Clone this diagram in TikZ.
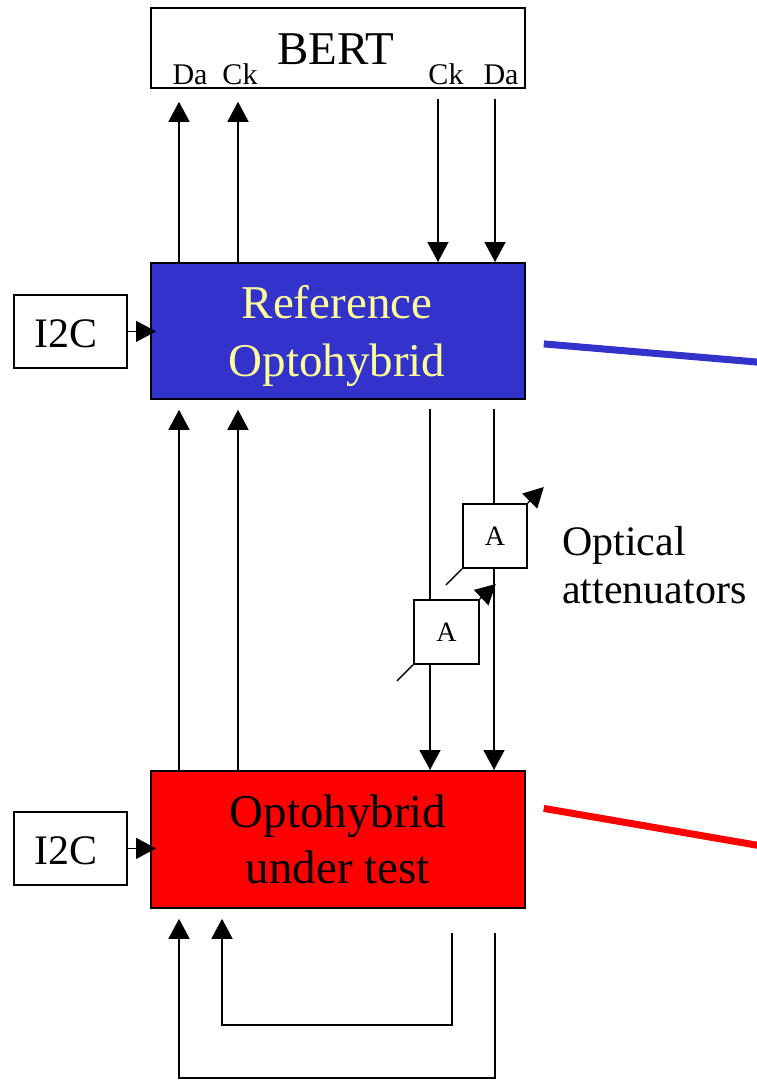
\documentclass[tikz,border=0pt]{standalone}
\usepackage{fontspec}
\setmainfont{Liberation Serif}
\usetikzlibrary{arrows.meta,calc}
\definecolor{refblue}{HTML}{3333CC}
\definecolor{refyellow}{HTML}{FFFF99}
\definecolor{testred}{HTML}{FF0000}
\begin{document}
\begin{tikzpicture}[x=1pt,y=-1pt,
  box/.style={draw=black, line width=1.8pt, fill=white, inner sep=0pt, anchor=north west},
  wire/.style={line width=1.5pt, draw=black},
  arr/.style={wire, -{Triangle[length=20pt,width=21pt]}},
  bigtxt/.style={font=\fontsize{47}{56}\selectfont, anchor=base, inner sep=0pt},
  midtxt/.style={font=\fontsize{42}{48}\selectfont, anchor=base, inner sep=0pt},
  smalltxt/.style={font=\fontsize{30}{34}\selectfont, anchor=base, inner sep=0pt},
  atttxt/.style={font=\fontsize{28}{32}\selectfont},
  fibre/.style={line width=7pt}
]
\useasboundingbox (0,0) rectangle (756,1080);

% BERT
\node[box, minimum width=374pt, minimum height=80pt] (bert) at (150,7) {};
\node[font=\fontsize{47}{56}\selectfont, anchor=base, inner sep=0pt] (berttxt) at (336,64) {BERT};
\node[smalltxt] (da1) at (190,84) {Da};
\node[smalltxt] (ck1) at (240,84) {Ck};
\node[smalltxt] (ck2) at (446,84) {Ck};
\node[smalltxt] (da2) at (501,84) {Da};

% Reference optohybrid
\node[box, fill=refblue, minimum width=374pt, minimum height=136pt] (ref) at (150,262) {};
\node[bigtxt, text=refyellow] (reft1) at (337,318) {Reference};
\node[bigtxt, text=refyellow] (reft2) at (337,376) {Optohybrid};

% Optohybrid under test
\node[box, fill=testred, minimum width=374pt, minimum height=137pt] (dut) at (150,770) {};
\node[bigtxt] (dutt1) at (338,827) {Optohybrid};
\node[bigtxt] (dutt2) at (338,883) {under test};

% I2C boxes
\node[box, minimum width=113pt, minimum height=73pt] (i2ca) at (13,294) {};
\node[midtxt] (i2catxt) at (66,347) {I2C};
\node[box, minimum width=113pt, minimum height=73pt] (i2cb) at (13,811) {};
\node[midtxt] (i2cbtxt) at (66,864) {I2C};

\draw[arr] (i2ca.east) -- ([xshift=6pt]ref.west |- i2ca.east);
\draw[arr] (i2cb.east) -- ([xshift=6pt]dut.west |- i2cb.east);

% Ref -> BERT
\draw[arr] ([xshift=29pt]ref.north west) -- ([xshift=29pt,yshift=-13pt]bert.south west);
\draw[arr] ([xshift=88pt]ref.north west) -- ([xshift=88pt,yshift=-13pt]bert.south west);
% BERT -> Ref
\draw[arr] ([xshift=288pt,yshift=-10pt]bert.south west) -- ([xshift=288pt]ref.north west);
\draw[arr] ([xshift=345pt,yshift=-10pt]bert.south west) -- ([xshift=345pt]ref.north west);

% DUT -> Ref
\draw[arr] ([xshift=29pt]dut.north west) -- ([xshift=29pt,yshift=-10pt]ref.south west);
\draw[arr] ([xshift=88pt]dut.north west) -- ([xshift=88pt,yshift=-10pt]ref.south west);
% Ref -> DUT (through attenuators)
\draw[arr] ([xshift=280pt,yshift=-9pt]ref.south west) -- ([xshift=280pt]dut.north west);
\draw[arr] ([xshift=344pt,yshift=-9pt]ref.south west) -- ([xshift=344pt]dut.north west);

% Attenuators
\node[box, minimum width=64pt, minimum height=64pt, atttxt] (att1) at (462,503) {A};
\node[box, minimum width=65pt, minimum height=64pt, atttxt] (att2) at (413,599) {A};
\draw[wire] ($(att1.south west)+(-16,16)$) -- (att1.south west);
\draw[arr] (att1.north east) -- ++(16,-16);
\draw[wire] ($(att2.south west)+(-16,16)$) -- (att2.south west);
\draw[arr] (att2.north east) -- ++(16,-15);

\node[midtxt, anchor=base west] (opt1) at (562,555) {Optical};
\node[midtxt, anchor=base west] (opt2) at (562,603) {attenuators};

% Loopbacks below DUT
\coordinate (lbA) at (452,933);
\coordinate (lbB) at (495,933);
\draw[arr] (lbA) |- (222,1025) -- ([xshift=72pt,yshift=-10pt]dut.south west);
\draw[arr] (lbB) |- (179,1078) -- ([xshift=29pt,yshift=-10pt]dut.south west);

% Fibres leaving to the right
\coordinate (fibA) at (760,362.3);
\coordinate (fibB) at (760,845.7);
\draw[fibre, draw=refblue] ($(ref.east)+(18,13)$) -- (fibA);
\draw[fibre, draw=testred] ($(dut.east)+(18,-31)$) -- (fibB);
\end{tikzpicture}
\end{document}
